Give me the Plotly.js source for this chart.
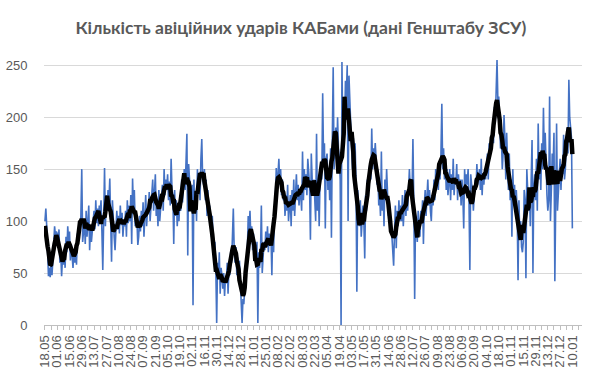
<!DOCTYPE html>
<html>
<head>
<meta charset="utf-8">
<script src="https://cdn.plot.ly/plotly-3.0.1.min.js"></script>
<style>html,body{margin:0;padding:0;background:#fff;}#chart{width:590px;height:376px;}</style>
</head>
<body>
<div id="chart"></div>
<script>
// Daily number of guided-bomb (KAB) strikes, 18.05.2024 – 10.01.2026
const startDate = '2024-05-18';
const titleText = 'Кількість авіційних ударів КАБами (дані Генштабу ЗСУ)';
const yTicks = [0, 50, 100, 150, 200, 250];

const strikes2024 = [
  100,112,95,75,47,55,46, 70,48,62,80,95,85,90, 88,75,92,60,70,47,65, 58,72,55,85,70,95,80,
  90,62,78,68,55,72,60, 75,58,88,82,98,90,105, 150,80,92,100,78,110,85, 105,115,72,95,80,88,100,
  110,92,120,98,112,95,115, 108,120,90,53,100,151,95, 125,110,130,118,141,100,61, 120,95,85,72,98,110,92,
  105,88,115,96,108,85,100, 95,110,85,120,98,115,100, 125,78,141,110,130,95,105, 100,77,85,105,90,110,95,
  118,85,102,125,95,110,108, 128,100,115,135,140,110,125, 145,105,118,95,130,100,115, 120,135,110,150,125,140,130,
  145,120,138,115,160,130,125, 78,130,105,120,95,115,100, 125,110,140,118,135,150,130, 165,184,67,155,140,130,120,
  135,19,140,110,128,100,150, 130,145,120,160,179,140,135, 150,120,140,105,130,110,115, 95,85,105,70,60,80,55,
  2,60,45,70,30,55,48, 35,50,28,45,40,60,30, 55,48,70,60,85,112,72, 60,75,48,65,50,62,45,
  30,2,25,20
];
const strikes2025 = [
  35,40,60,
  70,105,90,110,85,95,72, 88,65,75,60,80,2,70, 55,68,115,50,65,80,72, 90,75,95,70,88,80,85,
  48,95,70,115,120,151,130, 145,160,135,150,125,140,120, 130,105,125,110,135,100,120, 125,95,130,110,140,105,120,
  145,120,135,115,130,125,110, 167,120,150,130,145,125,160, 150,135,82,165,140,125,140, 120,100,184,110,135,95,140,
  150,140,223,160,175,93,160, 165,130,150,120,170,84,180, 248,150,175,190,160,200,170, 160,140,0,253,180,210,190,
  235,220,250,100,240,210,190, 170,150,180,160,175,140,32, 130,110,95,120,85,100,115, 100,64,125,110,140,130,150,
  155,140,189,150,170,160,175, 160,135,150,115,125,105,167, 110,130,95,140,120,150,125, 105,120,95,100,85,70,57,
  90,115,74,110,95,120,100, 115,100,125,95,110,130,105, 125,110,135,150,130,140,125, 179,120,25,105,95,80,110,
  90,85,110,100,120,78,115, 130,105,125,140,115,130,110, 100,125,115,140,120,150,135, 145,130,155,140,165,213,150,
  170,140,160,130,150,125,145, 150,120,145,130,160,125,140, 135,155,120,145,130,140,115, 140,125,93,150,130,145,135,
  150,120,53,145,135,130,110, 125,140,130,155,135,145,150, 130,160,125,145,135,150,140, 155,165,140,175,160,180,170,
  190,175,210,195,225,255,215, 220,195,170,180,150,165,202, 178,140,185,150,130,165,120, 140,85,150,120,135,110,130,
  110,43,120,85,100,75,70, 80,130,120,45,150,125,110, 130,95,140,178,50,135,145, 120,160,110,194,140,165,130,
  175,150,209,160,185,140,125, 110,120,220,100,130,165,150, 185,42,175,194,110,130,140,
  160,130,155,145,183
];
const strikes2026 = [140,150,175,190,165,236,200,185,180,93];

const DAY = 86400000;
const strikes = strikes2024.concat(strikes2025, strikes2026);
const t0 = Date.parse(startDate + 'T00:00:00Z');
const iso = ms => new Date(ms).toISOString().replace('T', ' ').slice(0, 19);
const dates = strikes.map((_, i) => iso(t0 + i * DAY).slice(0, 10));

// 7-day centred moving average
const avg7 = strikes.map((_, i) => {
  let s = 0, n = 0;
  for (let k = i - 3; k <= i + 3; k++) {
    if (k >= 0 && k < strikes.length) { s += strikes[k]; n++; }
  }
  return s / n;
});

const data = [
  {x: dates, y: strikes, type: 'scatter', mode: 'lines',
   line: {color: '#4472C4', width: 1.6}, hoverinfo: 'skip'},
  {x: dates, y: avg7, type: 'scatter', mode: 'lines',
   line: {color: '#000000', width: 4.5}, hoverinfo: 'skip'}
];

const layout = {
  width: 590, height: 376,
  margin: {l: 44, r: 8, t: 59, b: 51},
  paper_bgcolor: '#ffffff', plot_bgcolor: '#ffffff',
  showlegend: false,
  title: {text: titleText, x: 0.51, xref: 'container', xanchor: 'center',
          y: 0.925, yref: 'container', yanchor: 'middle',
          font: {family: 'Lato, Calibri, sans-serif', size: 17.5, color: '#595959', weight: 'bold'}},
  xaxis: {
    type: 'date',
    range: [iso(t0 - 1.1 * DAY), iso(t0 + 613 * DAY)],
    tick0: startDate, dtick: 14 * DAY, tickformat: '%d.%m', tickangle: -90,
    ticks: 'outside', ticklen: 4, tickcolor: '#bfbfbf', tickwidth: 1,
    minor: {dtick: 7 * DAY, tick0: startDate, ticks: 'outside', ticklen: 4, tickcolor: '#bfbfbf', showgrid: false},
    showline: true, linecolor: '#bfbfbf', linewidth: 1,
    showgrid: false, zeroline: false,
    tickfont: {family: 'Liberation Sans, Arial, sans-serif', size: 13, color: '#595959'}
  },
  yaxis: {
    range: [0, 256], tickvals: yTicks, ticktext: yTicks.map(String),
    showgrid: true, gridcolor: '#d9d9d9', gridwidth: 1,
    showline: false, zeroline: false,
    ticks: 'outside', ticklen: 13, tickcolor: 'rgba(0,0,0,0)',
    tickfont: {family: 'Liberation Sans, Arial, sans-serif', size: 13, color: '#595959'}
  }
};

Plotly.newPlot('chart', data, layout, {staticPlot: true, displayModeBar: false});
</script>
</body>
</html>
